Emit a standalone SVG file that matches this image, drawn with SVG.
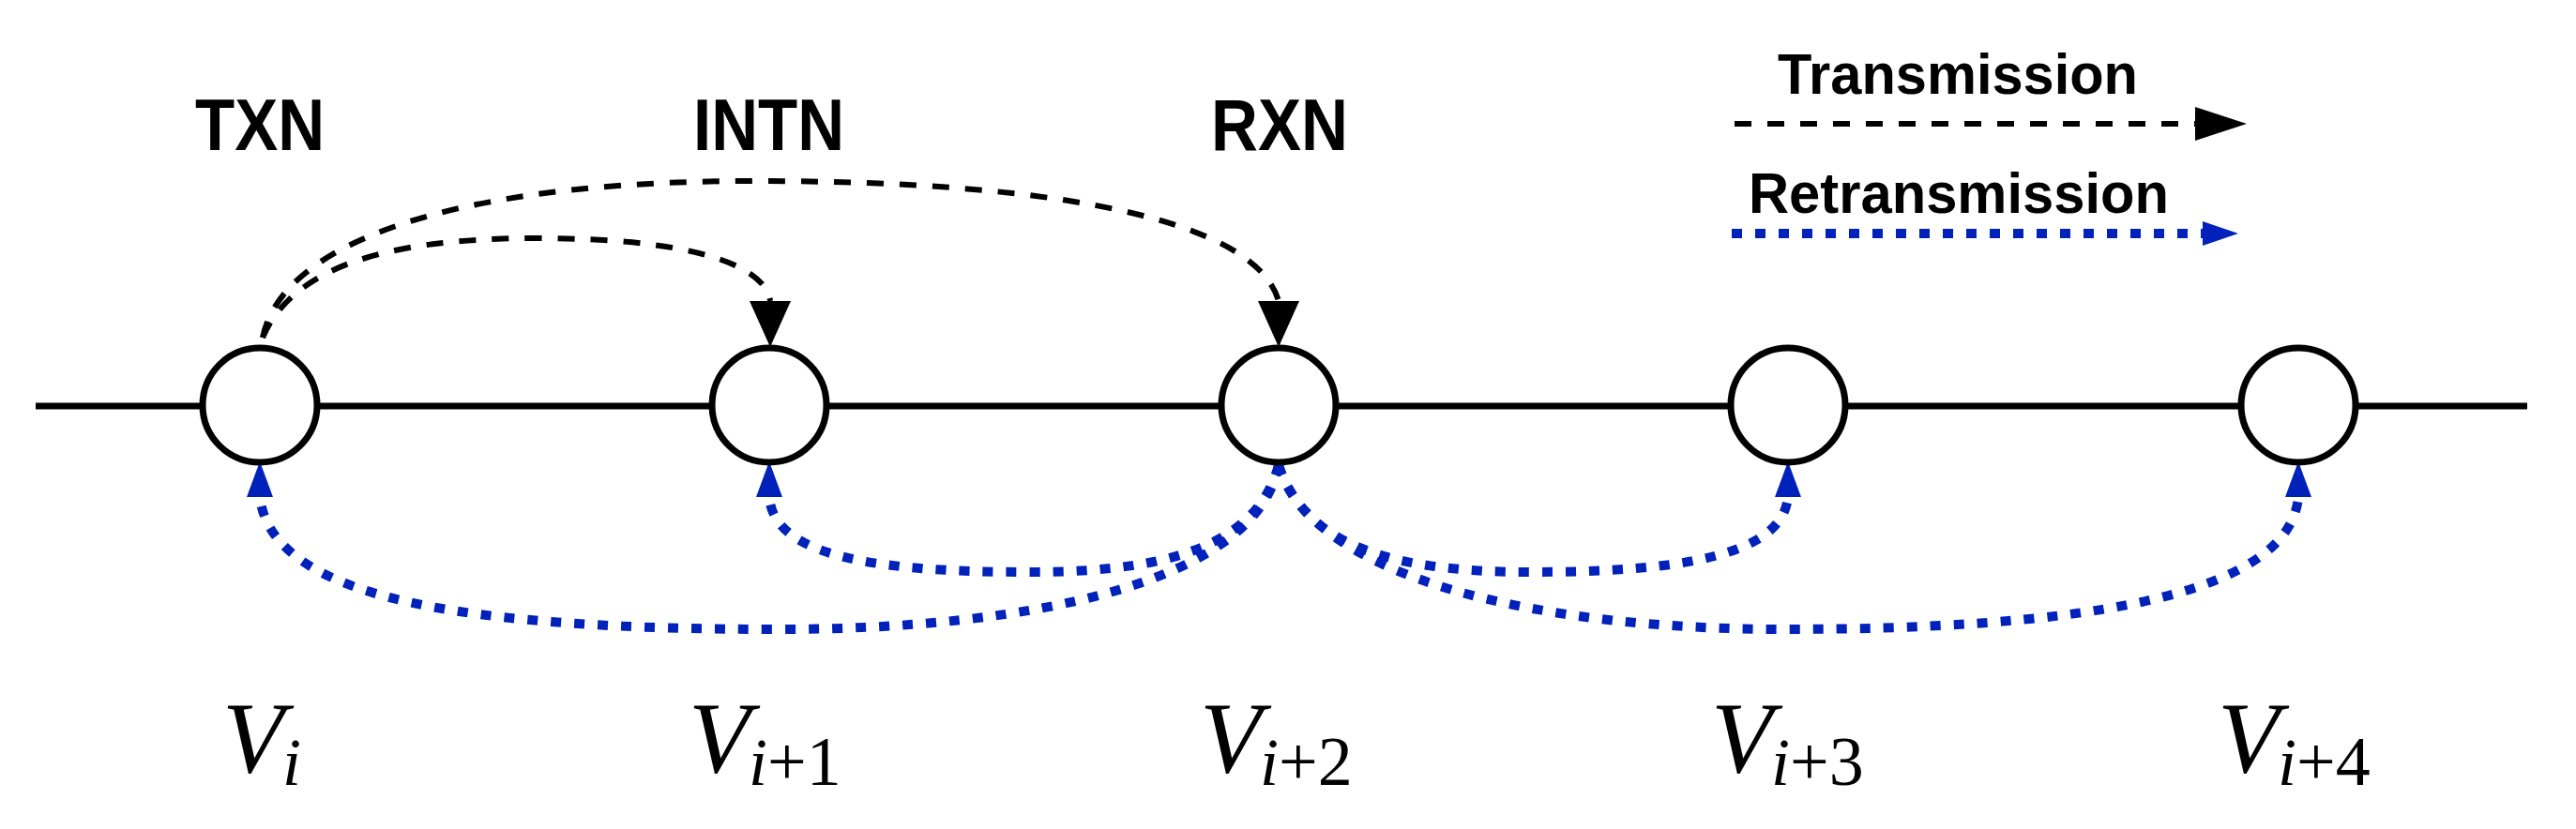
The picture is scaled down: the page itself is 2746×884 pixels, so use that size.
<svg xmlns="http://www.w3.org/2000/svg" width="2746" height="884" viewBox="0 0 2746 884">
<style>
.node{fill:#fff;stroke:#000;stroke-width:7}
.lbl{font-family:"Liberation Sans",Arial,sans-serif;font-weight:bold;font-size:78px;fill:#000}
.leg{font-family:"Liberation Sans",Arial,sans-serif;font-weight:bold;font-size:62px;fill:#000}
.tx{fill:none;stroke:#000;stroke-width:6;stroke-dasharray:18 17}
.rtx{fill:none;stroke:#0022bb;stroke-width:10;stroke-dasharray:11 14}
.m{font-family:"Liberation Serif","Times New Roman",serif;fill:#000}
.mv{font-style:italic;font-size:108px}
.mi{font-style:italic;font-size:72px}
.mn{font-size:74px}
</style>
<g id="connectors">
<line x1="38" y1="433" x2="2694" y2="433" stroke="#000" stroke-width="7"/>
<path class="tx" d="M280,360 C300,260 480,193 804,193 C1150,193 1340,240 1363,321"/>
<path class="tx" d="M280,360 C310,290 400,254 571,254 C730,254 815,280 821,321"/>
<polygon points="1341,321 1385,321 1363,370" fill="#000"/>
<polygon points="799,321 843,321 821,370" fill="#000"/>
<path class="rtx" d="M1363,496 C1340,620 1100,671 830,671 C500,671 290,640 277,530"/>
<path class="rtx" d="M1363,496 C1340,580 1250,610 1098,610 C920,610 825,590 820,530"/>
<path class="rtx" d="M1363,496 C1390,580 1480,610 1632,610 C1800,610 1900,590 1906,530"/>
<path class="rtx" d="M1363,496 C1400,620 1650,671 1900,671 C2200,671 2440,640 2450,530"/>
<polygon points="263,530 291,530 277,492" fill="#0022bb"/>
<polygon points="806,530 834,530 820,492" fill="#0022bb"/>
<polygon points="1892,530 1920,530 1906,492" fill="#0022bb"/>
<polygon points="2436,530 2464,530 2450,492" fill="#0022bb"/>
</g>
<g id="legend">
<text class="leg" x="1895" y="100" textLength="384" lengthAdjust="spacingAndGlyphs">Transmission</text>
<line class="tx" x1="1849" y1="132" x2="2340" y2="132"/>
<polygon points="2340,114 2395,132 2340,150" fill="#000"/>
<text class="leg" x="1864" y="227" textLength="448" lengthAdjust="spacingAndGlyphs">Retransmission</text>
<line class="rtx" x1="1846" y1="249" x2="2348" y2="249"/>
<polygon points="2348,236 2386,249 2348,262" fill="#0022bb"/>
</g>
<g id="titles">
<text class="lbl" x="208" y="160" textLength="138" lengthAdjust="spacingAndGlyphs">TXN</text>
<text class="lbl" x="739" y="160" textLength="161" lengthAdjust="spacingAndGlyphs">INTN</text>
<text class="lbl" x="1291" y="160" textLength="146" lengthAdjust="spacingAndGlyphs">RXN</text>
</g>
<g id="node-vi"><circle class="node" cx="277" cy="432" r="61"/><text class="m" x="237" y="823"><tspan class="mv">V</tspan><tspan class="mi" dx="-2" dy="14">i</tspan></text></g>
<g id="node-vi1"><circle class="node" cx="820" cy="432" r="61"/><text class="m" x="734" y="823"><tspan class="mv">V</tspan><tspan class="mi" dx="-2" dy="14">i</tspan><tspan class="mn">+1</tspan></text></g>
<g id="node-vi2"><circle class="node" cx="1363" cy="432" r="61"/><text class="m" x="1279" y="823"><tspan class="mv">V</tspan><tspan class="mi" dx="-2" dy="14">i</tspan><tspan class="mn">+2</tspan></text></g>
<g id="node-vi3"><circle class="node" cx="1906" cy="432" r="61"/><text class="m" x="1824" y="823"><tspan class="mv">V</tspan><tspan class="mi" dx="-2" dy="14">i</tspan><tspan class="mn">+3</tspan></text></g>
<g id="node-vi4"><circle class="node" cx="2450" cy="432" r="61"/><text class="m" x="2364" y="823"><tspan class="mv">V</tspan><tspan class="mi" dx="-2" dy="14">i</tspan><tspan class="mn">+4</tspan></text></g>
</svg>
